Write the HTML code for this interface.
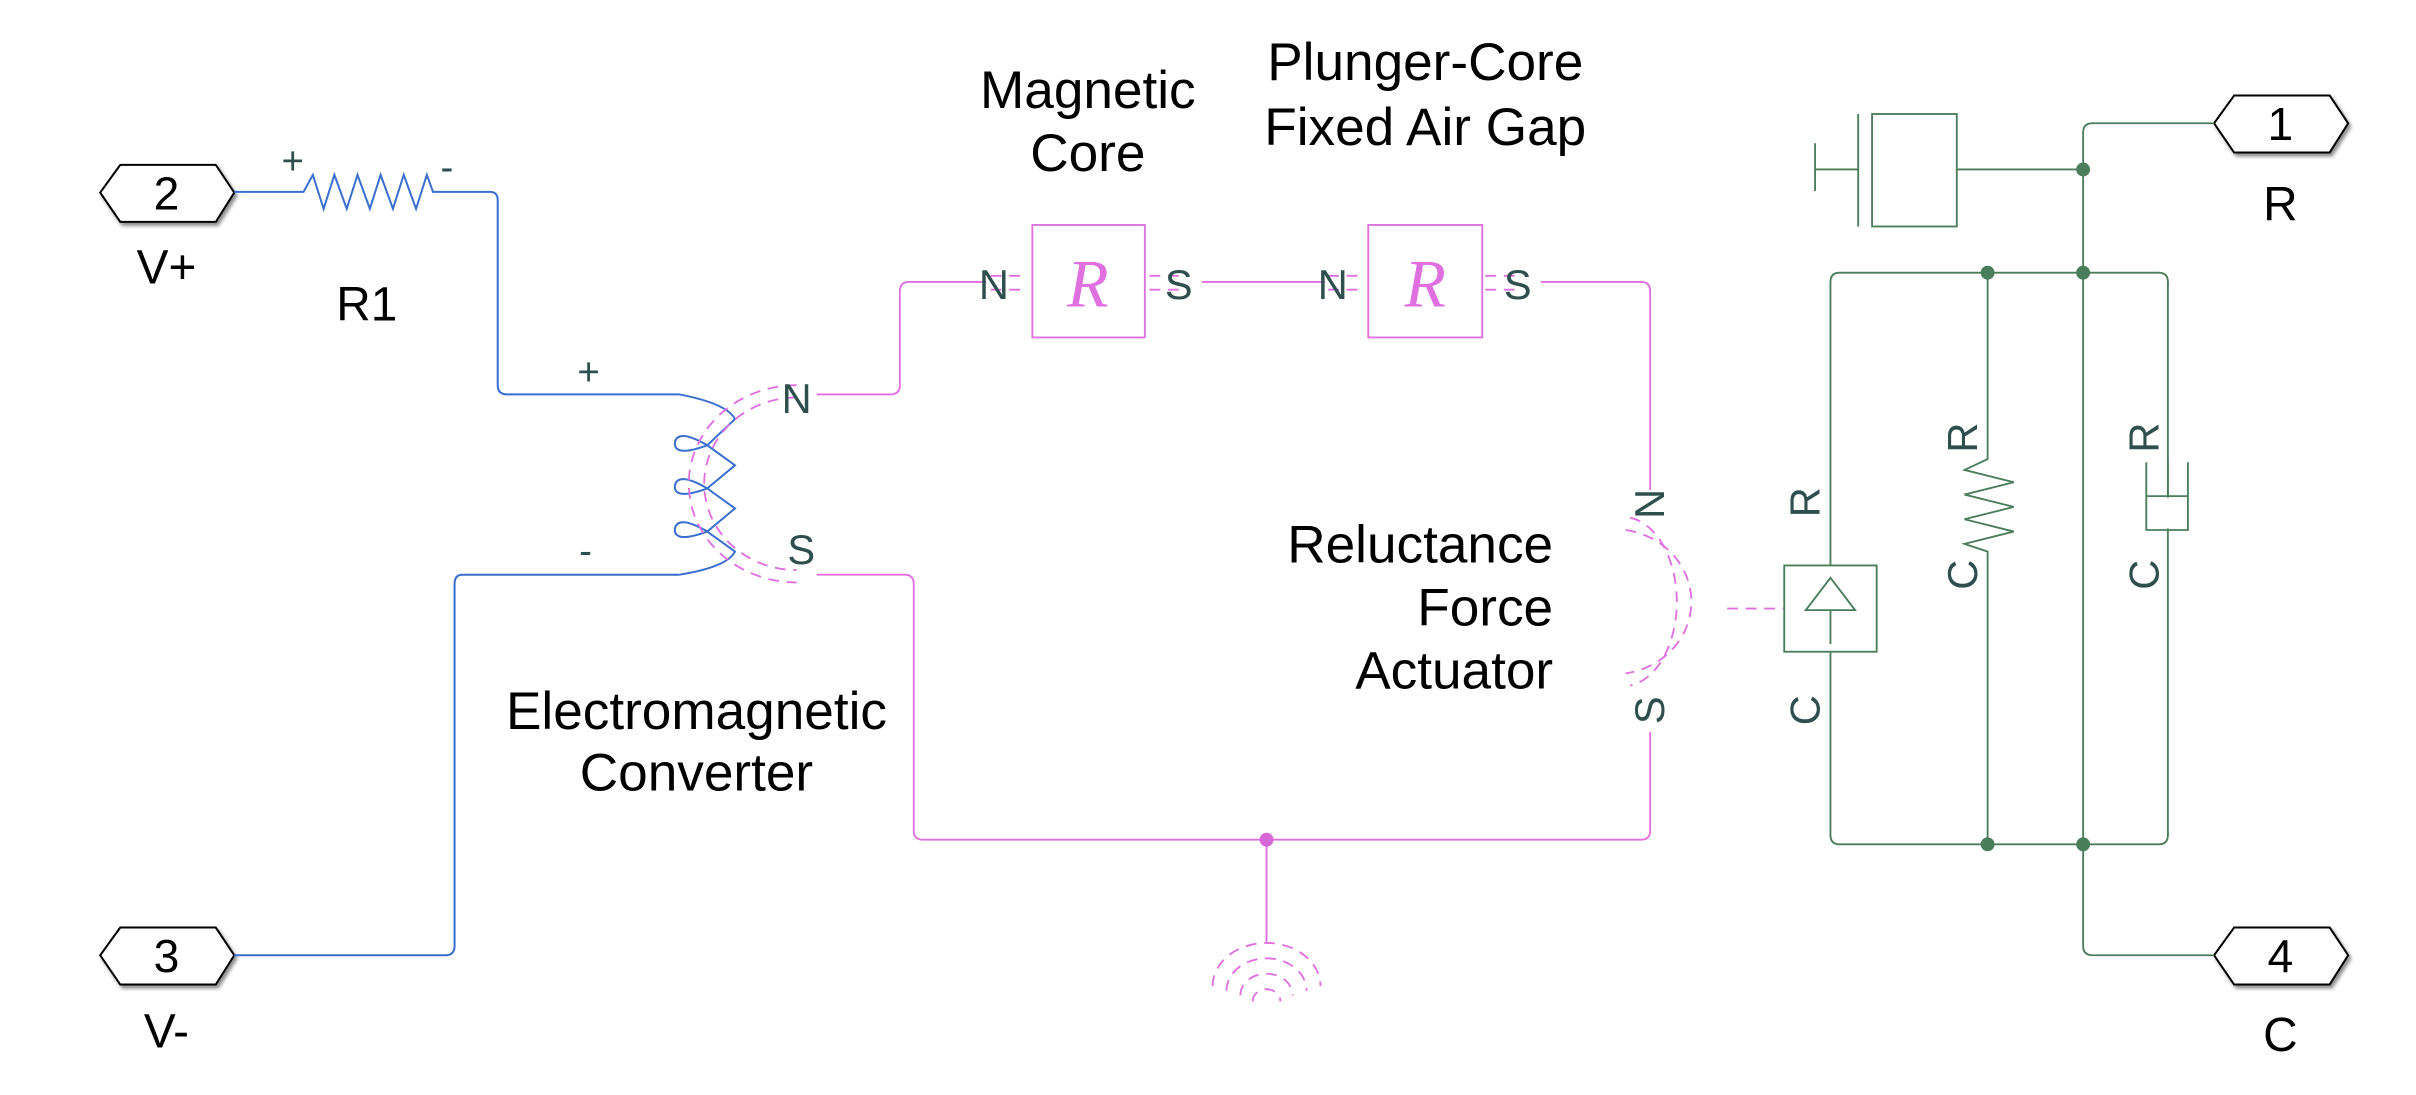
<!DOCTYPE html>
<html><head><meta charset="utf-8"><style>html,body{margin:0;padding:0;background:#fff}svg{display:block}</style></head>
<body>
<svg width="2416" height="1095" viewBox="0 0 1568 710.7" xmlns="http://www.w3.org/2000/svg" font-family="Liberation Sans, Arial, sans-serif">
<defs><filter id="sh" x="-10%" y="-10%" width="130%" height="140%"><feDropShadow dx="1.5" dy="2" stdDeviation="1.2" flood-color="#000" flood-opacity="0.45"/></filter></defs>
<rect width="1568" height="711" fill="#fff"/>

<g fill="#fff" stroke="#000" stroke-width="1.3" filter="url(#sh)">
<polygon points="65,125 78,107 140,107 152,125 140,144 78,144"/>
<polygon points="65,620 78,602 140,602 152,620 140,639 78,639"/>
<polygon points="1437,80 1450,62 1512,62 1524,80 1512,99 1450,99"/>
<polygon points="1437,620 1450,602 1512,602 1524,620 1512,639 1450,639"/>
</g>
<g font-size="30" text-anchor="middle" fill="#000">
<text x="108" y="136">2</text><text x="108" y="631">3</text>
<text x="1480" y="91">1</text><text x="1480" y="631">4</text>
</g>
<g font-size="31" text-anchor="middle" fill="#000">
<text x="108" y="184">V+</text><text x="108" y="680">V-</text>
<text x="1480" y="143">R</text><text x="1480" y="682">C</text>
<text x="238" y="208">R1</text>
</g>
<g font-size="34.5" fill="#000" text-anchor="middle">
<text x="706" y="70">Magnetic</text><text x="706" y="111">Core</text>
<text x="925" y="52">Plunger-Core</text><text x="925" y="94">Fixed Air Gap</text>
<text x="452" y="473">Electromagnetic</text><text x="452" y="513">Converter</text>
</g>
<g font-size="34.5" fill="#000" text-anchor="end">
<text x="1008" y="365">Reluctance</text><text x="1008" y="406">Force</text><text x="1008" y="447">Actuator</text>
</g>

<g fill="none" stroke="#3a6fd0" stroke-width="1.3">
<path d="M152,124.5 H197 L203,113.5 L210,135.5 L217,113.5 L225,135.5 L232,113.5 L240,135.5 L247,113.5 L255,135.5 L262,113.5 L270,135.5 L277,113.5 L281,124.5 H318 Q323,124.5 323,130 V250 Q323,256 329,256 H441"/>
<path d="M441,373 H300 Q295,373 295,379 V614 Q295,620 289,620 H152"/>
<path d="M441,256 Q472,262 477,272 L459,289 Q437,297 438,287 Q440,278 459,289 L477,302 L459,317 Q437,325 438,315 Q440,306 459,317 L477,330 L459,345 Q437,353 438,343 Q440,334 459,345 L477,358 Q472,368 441,373"/>
</g>
<g font-size="25" fill="#2f4f4f" text-anchor="middle">
<text x="190" y="113">+</text><text x="290" y="117">-</text>
<text x="382" y="250">+</text><text x="380" y="366">-</text>
</g>

<g fill="none" stroke="#e070e0" stroke-width="1.2">
<path d="M530,256 H578 Q584,256 584,250 V189 Q584,183 590,183 H640"/>
<path d="M780,183 H860"/>
<path d="M1000,183 H1065 Q1071,183 1071,189 V318"/>
<path d="M1071,475 V539 Q1071,545 1065,545 H599 Q593,545 593,539 V379 Q593,373 587,373 H530"/>
<path d="M822,545 V612"/>
<rect x="670" y="146" width="73" height="73"/>
<rect x="888" y="146" width="74" height="73"/>
<g stroke-dasharray="7,5">
<path d="M517,258 A60,56 0 0 0 517,370"/>
<path d="M517,250 A70,64 0 0 0 517,378"/>
<path d="M1058,336 A35,55 0 0 1 1058,445"/>
<path d="M1055,344 A50,47 0 0 1 1055,437"/>
<path d="M1121,395 H1158"/>
<path d="M643,179 H667 M643,188 H667 M746,179 H770 M746,188 H770"/>
<path d="M862,179 H886 M862,188 H886 M964,179 H988 M964,188 H988"/>
<path d="M787,640 A35,28 0 0 1 857,640"/>
<path d="M796,643 A26,21 0 0 1 848,643"/>
<path d="M805,646 A17,14 0 0 1 839,646"/>
<path d="M813,650 A9,8 0 0 1 831,650"/>
</g>
</g>
<circle cx="822" cy="545" r="4.5" fill="#d868d8"/>
<g font-family="Liberation Serif, serif" font-style="italic" font-size="44" fill="#e070e0" text-anchor="middle">
<text x="706" y="199">R</text><text x="925" y="199">R</text>
</g>
<g font-size="27" fill="#2f4f4f" text-anchor="middle">
<text x="645" y="194">N</text><text x="765" y="194">S</text>
<text x="865" y="194">N</text><text x="985" y="194">S</text>
<text x="517" y="268">N</text><text x="520" y="366">S</text>
<text transform="translate(1080,327) rotate(-90)">N</text>
<text transform="translate(1080,461) rotate(-90)">S</text>
</g>

<g fill="none" stroke="#4a7d5a" stroke-width="1.2">
<path d="M1437,80 H1358 Q1352,80 1352,86 V548 V614 Q1352,620 1358,620 H1437"/>
<path d="M1270,110 H1352"/>
<rect x="1215" y="74" width="55" height="73"/>
<path d="M1206,74 V147 M1206,110 H1178 M1178,93 V124"/>
<path d="M1194,177 H1401 Q1407,177 1407,183 V542 Q1407,548 1401,548 H1194 Q1188,548 1188,542 V183 Q1188,177 1194,177"/>
<path d="M1290,177 V298 L1275,305 L1307,313 L1275,321 L1307,329 L1275,337 L1307,345 L1275,353 L1290,358 V548"/>
<path d="M1393,300 V344 H1420 V300 M1393,322 H1420"/>
</g>
<rect x="1400" y="323" width="14" height="20" fill="#fff"/>
<rect x="1402" y="186" width="10" height="113" fill="#fff"/>
<rect x="1402" y="345" width="10" height="195" fill="#fff"/>
<path d="M1407,183 V322 M1407,344 V542" fill="none" stroke="#4a7d5a" stroke-width="1.2"/>
<rect x="1158" y="367" width="60" height="56" fill="#fff" stroke="#4a7d5a" stroke-width="1.2"/>
<path d="M1188,375 L1172,396 H1204 Z M1188,396 V418" fill="none" stroke="#4a7d5a" stroke-width="1.2"/>
<g fill="#4a7d5a">
<circle cx="1352" cy="110" r="4.5"/><circle cx="1290" cy="177" r="4.5"/><circle cx="1352" cy="177" r="4.5"/>
<circle cx="1290" cy="548" r="4.5"/><circle cx="1352" cy="548" r="4.5"/>
</g>
<g font-size="27" fill="#2f4f4f" text-anchor="middle">
<text transform="translate(1181,326) rotate(-90)">R</text>
<text transform="translate(1181,461) rotate(-90)">C</text>
<text transform="translate(1283,284) rotate(-90)">R</text>
<text transform="translate(1283,373) rotate(-90)">C</text>
<text transform="translate(1401,284) rotate(-90)">R</text>
<text transform="translate(1401,373) rotate(-90)">C</text>
</g>
</svg>
</body></html>
